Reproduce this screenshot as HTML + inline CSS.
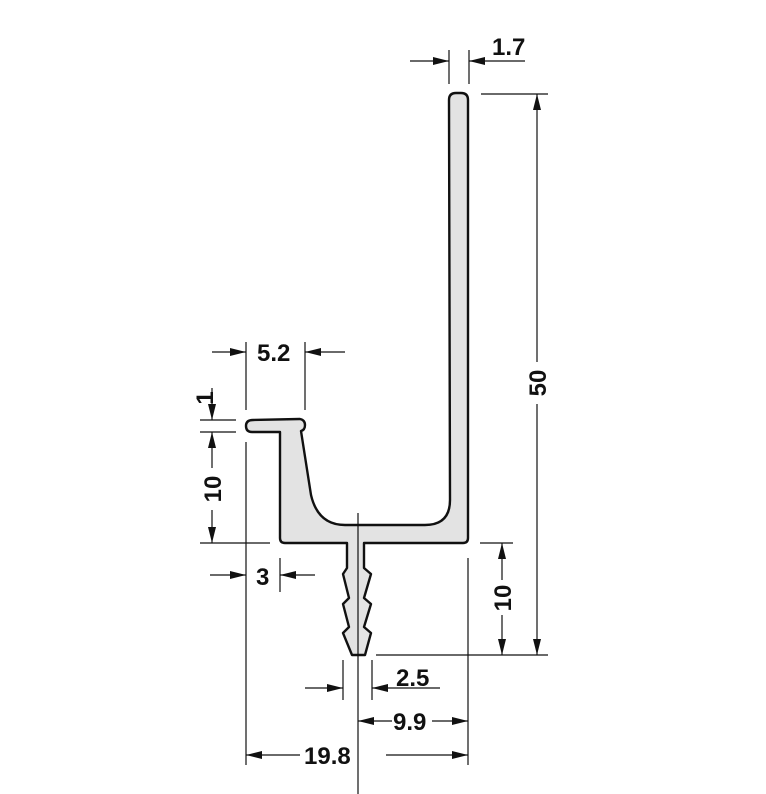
<!DOCTYPE html>
<html><head><style>html,body{margin:0;padding:0;background:#fff}svg{display:block}text{font-family:"Liberation Sans",Arial,sans-serif;font-weight:bold;font-size:24px;fill:#111}</style></head>
<body>
<svg width="766" height="794" viewBox="0 0 766 794" xmlns="http://www.w3.org/2000/svg">
<defs>
<marker id="a" viewBox="0 0 16 8" refX="16" refY="4" markerWidth="16" markerHeight="8" markerUnits="userSpaceOnUse" orient="auto"><path d="M0,0 L16,4 L0,8 z" fill="#111"/></marker>
</defs>
<path d="M449,100 Q449,93 456,93 L461,93 Q468,93 468,100 L468,538 Q468,543 463,543 L364,543 L364,568 L371,574 L364,598 L371,604 L364,627 L371,633 L365,655 L352,655 L343,633 L349,627 L343,604 L349,598 L343,574 L347,568 L347,543 L285,543 Q280,543 280,538 L280,432 L252,432 Q246,432 246,426 Q246,420 253,420 L300,419 Q305,420 305,425 Q305,430 301,431 L311,495 Q318,525 345,525 L425,525 Q450,525 450,500 Z" fill="#e3e3e3" stroke="#111" stroke-width="2.4" stroke-linejoin="round"/>
<line x1="358" y1="513" x2="358" y2="795" stroke="#111" stroke-width="1.2"/>
<g stroke="#111" stroke-width="1.2" fill="none">
<line x1="449" y1="50" x2="449" y2="84"/><line x1="469" y1="50" x2="469" y2="84"/>
<line x1="410" y1="61" x2="449" y2="61" marker-end="url(#a)"/><line x1="525" y1="61" x2="469" y2="61" marker-end="url(#a)"/>
<line x1="481" y1="94" x2="548" y2="94"/>
<line x1="376" y1="655" x2="548" y2="655"/>
<line x1="537" y1="362" x2="537" y2="94" marker-end="url(#a)"/>
<line x1="537" y1="404" x2="537" y2="655" marker-end="url(#a)"/>
<line x1="480" y1="543" x2="513" y2="543"/>
<line x1="502" y1="580" x2="502" y2="543" marker-end="url(#a)"/>
<line x1="502" y1="615" x2="502" y2="655" marker-end="url(#a)"/>
<line x1="246" y1="342" x2="246" y2="410"/><line x1="305" y1="342" x2="305" y2="410"/>
<line x1="212" y1="352" x2="246" y2="352" marker-end="url(#a)"/><line x1="345" y1="352" x2="305" y2="352" marker-end="url(#a)"/>
<line x1="200" y1="420" x2="236" y2="420"/><line x1="200" y1="432" x2="236" y2="432"/>
<line x1="200" y1="543" x2="270" y2="543"/>
<line x1="212" y1="388" x2="212" y2="420" marker-end="url(#a)"/>
<line x1="212" y1="468" x2="212" y2="432" marker-end="url(#a)"/>
<line x1="212" y1="510" x2="212" y2="543" marker-end="url(#a)"/>
<line x1="246" y1="442" x2="246" y2="765"/>
<line x1="280" y1="558" x2="280" y2="592"/>
<line x1="210" y1="575" x2="246" y2="575" marker-end="url(#a)"/><line x1="315" y1="575" x2="280" y2="575" marker-end="url(#a)"/>
<line x1="343" y1="660" x2="343" y2="700"/><line x1="372" y1="660" x2="372" y2="700"/>
<line x1="305" y1="688" x2="343" y2="688" marker-end="url(#a)"/><line x1="440" y1="688" x2="372" y2="688" marker-end="url(#a)"/>
<line x1="468" y1="558" x2="468" y2="765"/>
<line x1="392" y1="721" x2="358" y2="721" marker-end="url(#a)"/><line x1="432" y1="721" x2="468" y2="721" marker-end="url(#a)"/>
<line x1="300" y1="755" x2="246" y2="755" marker-end="url(#a)"/><line x1="386" y1="755" x2="468" y2="755" marker-end="url(#a)"/>
</g>
<text x="492" y="55">1.7</text>
<text x="257" y="361">5.2</text>
<text x="256" y="585">3</text>
<text x="396" y="686">2.5</text>
<text x="393" y="730">9.9</text>
<text x="304" y="764">19.8</text>
<text transform="translate(546,383) rotate(-90)" text-anchor="middle">50</text>
<text transform="translate(511,598) rotate(-90)" text-anchor="middle">10</text>
<text transform="translate(221,489) rotate(-90)" text-anchor="middle">10</text>
<text transform="translate(213,398) rotate(-90)" text-anchor="middle">1</text>
</svg>
</body></html>
